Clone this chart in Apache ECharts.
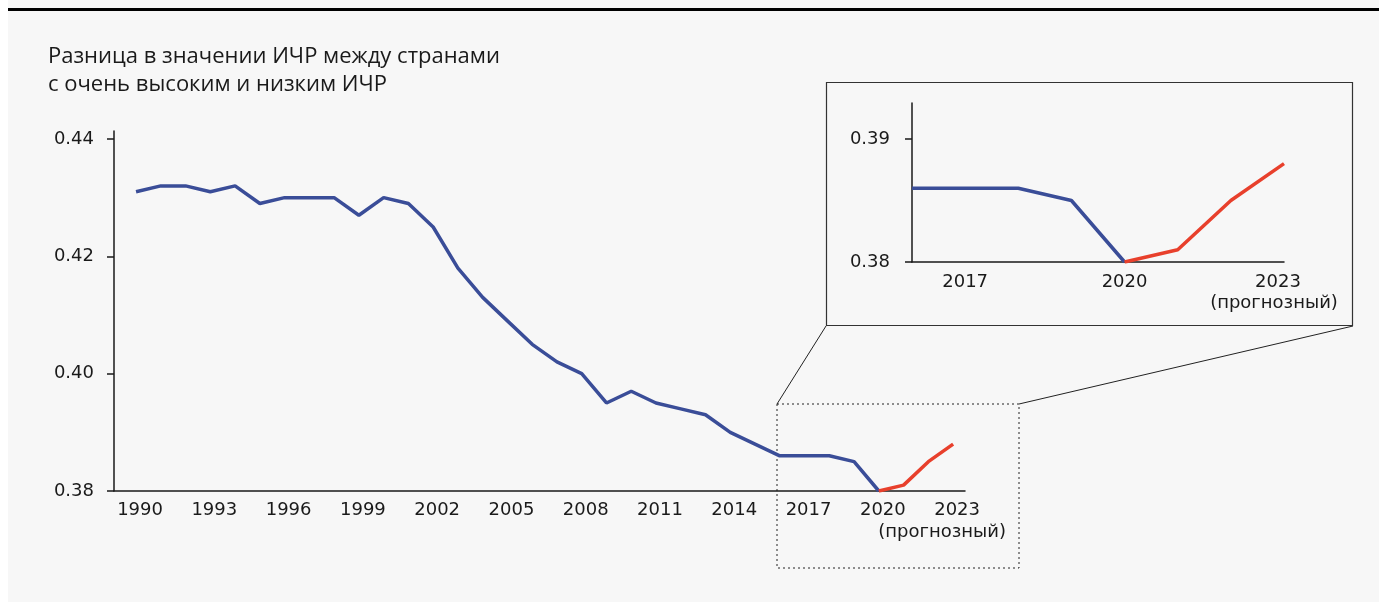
<!DOCTYPE html>
<html>
<head>
<meta charset="utf-8">
<script src="https://cdn.jsdelivr.net/npm/echarts@6/dist/echarts.min.js"></script>
<style>
html,body{margin:0;padding:0;background:#fff;}
#chart{width:1379px;height:602px;}
</style>
</head>
<body>
<div id="chart"></div>
<script>
// ---- data ----
const years = [1990,1991,1992,1993,1994,1995,1996,1997,1998,1999,2000,2001,2002,2003,2004,2005,2006,2007,2008,2009,2010,2011,2012,2013,2014,2015,2016,2017,2018,2019,2020,2021,2022,2023];
const hdiGap = [0.431,0.432,0.432,0.431,0.432,0.429,0.430,0.430,0.430,0.427,0.430,0.429,0.425,0.418,0.413,0.409,0.405,0.402,0.400,0.395,0.397,0.395,0.394,0.393,0.390,0.388,0.386,0.386,0.386,0.385,0.380,0.381,0.385,0.388];
const forecastStart = 2020;
const mainXTicks = [1990,1993,1996,1999,2002,2005,2008,2011,2014,2017,2020,2023];
const mainYTicks = [0.38,0.40,0.42,0.44];
const insetStart = 2016;
const insetXTicks = [2017,2020,2023];
const insetYTicks = [0.38,0.39];
const forecastLabel = '(прогнозный)';
const titleText = 'Разница в значении ИЧР между странами\nс очень высоким и низким ИЧР';

// ---- build series data ----
const actualPts = [], forecastPts = [], insetActual = [], insetForecast = [];
years.forEach((y, i) => {
  const p = [y, hdiGap[i]];
  if (y <= forecastStart) actualPts.push(p);
  if (y >= forecastStart) forecastPts.push(p);
  if (y >= insetStart && y <= forecastStart) insetActual.push(p);
  if (y >= insetStart && y >= forecastStart) insetForecast.push(p);
});

const BLUE = '#3a4d98';
const RED = '#e8402c';
const AX = '#1a1a1a';
const TXT = '#1a1a1a';
const FONT = 'DejaVu Sans';
const FS = 18;
const lastYear = years[years.length - 1];

function yLab(v){ return v.toFixed(2); }
function rs(pad){ return {fontFamily: FONT, fontSize: FS, color: TXT, lineHeight: 21, padding: pad}; }

const chart = echarts.init(document.getElementById('chart'), null, {renderer: 'canvas'});
chart.setOption({
  animation: false,
  backgroundColor: '#ffffff',
  title: {
    text: titleText,
    left: 43, top: 38,
    textStyle: {fontFamily: 'Open Sans', fontSize: 22, fontWeight: 'normal', color: TXT, lineHeight: 28}
  },
  graphic: [
    {type: 'rect', z: -10, silent: true, shape: {x: 8, y: 0, width: 1371, height: 602}, style: {fill: '#f7f7f7'}},
    {type: 'rect', z: -9, silent: true, shape: {x: 8, y: 8, width: 1371, height: 3}, style: {fill: '#000'}},
    {type: 'rect', z: -5, silent: true, shape: {x: 777, y: 404, width: 242, height: 164}, style: {fill: 'none', stroke: '#222', lineWidth: 1, lineDash: [2, 3]}},
    {type: 'line', z: -5, silent: true, shape: {x1: 777, y1: 404, x2: 826, y2: 326}, style: {stroke: '#222', lineWidth: 1}},
    {type: 'line', z: -5, silent: true, shape: {x1: 1019, y1: 404, x2: 1353, y2: 326}, style: {stroke: '#222', lineWidth: 1}},
    {type: 'rect', z: -4, silent: true, shape: {x: 826.5, y: 82.5, width: 526, height: 243}, style: {fill: '#f7f7f7', stroke: '#333', lineWidth: 1.2}}
  ],
  grid: [
    {left: 114, top: 131, width: 851, height: 360},
    {left: 912, top: 103, width: 372, height: 159}
  ],
  xAxis: [
    {
      type: 'value', gridIndex: 0, min: 1989.11, max: 2023.48,
      splitLine: {show: false},
      axisLine: {lineStyle: {color: AX, width: 1.5}},
      axisTick: {show: false},
      axisLabel: {
        customValues: mainXTicks, margin: 10, color: TXT, fontFamily: FONT, fontSize: FS,
        showMinLabel: true, showMaxLabel: true, hideOverlap: false,
        padding: [0, 0, 0, 8],
        formatter: v => String(v)
      }
    },
    {
      type: 'value', gridIndex: 0, min: 1989.11, max: 2023.48, position: 'bottom',
      splitLine: {show: false},
      axisLine: {show: false},
      axisTick: {show: false},
      axisLabel: {
        customValues: [lastYear], margin: 32, color: TXT, fontFamily: FONT, fontSize: FS,
        showMinLabel: true, showMaxLabel: true,
        padding: [0, 22, 0, 0],
        formatter: () => forecastLabel
      }
    },
    {
      type: 'value', gridIndex: 1, min: 2016, max: 2023,
      splitLine: {show: false},
      axisLine: {lineStyle: {color: AX, width: 1.5}},
      axisTick: {show: false},
      axisLabel: {
        customValues: insetXTicks, margin: 10, color: TXT, fontFamily: FONT, fontSize: FS,
        showMinLabel: true, showMaxLabel: true, hideOverlap: false,
        formatter: v => v === lastYear ? '{a|' + v + '}\n{b|' + forecastLabel + '}' : '{c|' + v + '}',
        rich: {a: rs([0, 12, 0, 0]), b: rs([0, 20, 0, 0]), c: rs([0, 0, 0, 0])}
      }
    }
  ],
  yAxis: [
    {
      type: 'value', gridIndex: 0, min: 0.38, max: 0.44136,
      splitLine: {show: false},
      axisLine: {show: true, lineStyle: {color: AX, width: 1.5}},
      axisTick: {show: true, customValues: mainYTicks, length: 7, lineStyle: {color: AX, width: 1.5}},
      axisLabel: {customValues: mainYTicks, formatter: yLab, margin: 20, color: TXT, fontFamily: FONT, fontSize: FS, showMinLabel: true, showMaxLabel: true}
    },
    {
      type: 'value', gridIndex: 1, min: 0.38, max: 0.39293,
      splitLine: {show: false},
      axisLine: {show: true, lineStyle: {color: AX, width: 1.5}},
      axisTick: {show: true, customValues: insetYTicks, length: 7, lineStyle: {color: AX, width: 1.5}},
      axisLabel: {customValues: insetYTicks, formatter: yLab, margin: 22, color: TXT, fontFamily: FONT, fontSize: FS, showMinLabel: true, showMaxLabel: true}
    }
  ],
  series: [
    {type: 'line', xAxisIndex: 0, yAxisIndex: 0, data: actualPts, showSymbol: false, lineStyle: {color: BLUE, width: 3.5}, z: 3},
    {type: 'line', xAxisIndex: 0, yAxisIndex: 0, data: forecastPts, showSymbol: false, lineStyle: {color: RED, width: 3.5}, z: 4},
    {type: 'line', xAxisIndex: 2, yAxisIndex: 1, data: insetActual, showSymbol: false, lineStyle: {color: BLUE, width: 3.5}, z: 3},
    {type: 'line', xAxisIndex: 2, yAxisIndex: 1, data: insetForecast, showSymbol: false, lineStyle: {color: RED, width: 3.5}, z: 4}
  ]
});
</script>
</body>
</html>
